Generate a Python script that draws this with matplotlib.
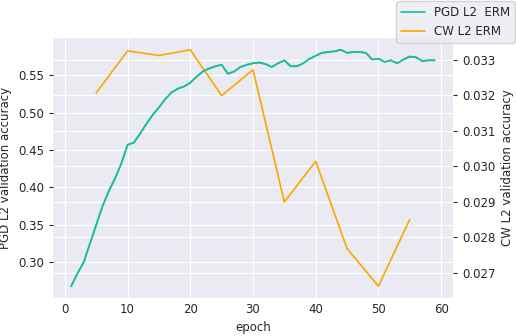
import matplotlib
matplotlib.use("Agg")
import matplotlib.pyplot as plt
import seaborn as sns
import numpy as np

pgd_epochs = list(range(1, 60))
pgd_acc = [0.268, 0.285, 0.300, 0.325, 0.350, 0.375, 0.395, 0.412, 0.432, 0.457,
           0.460, 0.472, 0.485, 0.497, 0.507, 0.518, 0.527, 0.532, 0.535, 0.540,
           0.548, 0.555, 0.559, 0.562, 0.564, 0.552, 0.555, 0.561, 0.564, 0.566,
           0.567, 0.565, 0.561, 0.566, 0.570, 0.562, 0.562, 0.566, 0.572, 0.576,
           0.580, 0.581, 0.582, 0.584, 0.580, 0.581, 0.581, 0.580, 0.571, 0.572,
           0.568, 0.570, 0.566, 0.571, 0.575, 0.574, 0.569, 0.570, 0.570]

cw_epochs = [5, 10, 15, 20, 25, 30, 35, 40, 45, 50, 55]
cw_acc = [0.03207, 0.03325, 0.03312, 0.03328, 0.03199, 0.03272,
          0.02899, 0.03014, 0.02768, 0.02662, 0.02850]

sns.set_style("darkgrid")
plt.rcParams['font.family'] = ['DejaVu Sans']
fs = 8.5
green = "#1abc9c"
fig = plt.figure(figsize=(5.16, 3.36), dpi=100)
ax = fig.add_axes([53/516, 1-298/336, 400/516, 260/336])
ax2 = ax.twinx()

l1, = ax.plot(pgd_epochs, pgd_acc, color=green, lw=1.2, label="PGD L2  ERM")
l2, = ax2.plot(cw_epochs, cw_acc, color="orange", lw=1.2, label="CW L2 ERM")

ax.set_xticks([0, 10, 20, 30, 40, 50, 60])
ax.set_yticks([0.30, 0.35, 0.40, 0.45, 0.50, 0.55])
ax2.set_yticks([0.027, 0.028, 0.029, 0.030, 0.031, 0.032, 0.033])
# fix limits, then redraw the PGD line above the right-axis grid
ax.set_xlim(ax.get_xlim())
ax.set_ylim(ax.get_ylim())
ax2.set_ylim(ax2.get_ylim())
ax2.plot(pgd_epochs, pgd_acc, color=green, lw=1.2, transform=ax.transData,
         scalex=False, scaley=False)
ax2.set_ylim(ax2.get_ylim())

ax.set_xlabel("epoch", fontsize=fs, color=".15")
ax.set_ylabel("PGD L2 validation accuracy", fontsize=fs, color=".15")
ax2.set_ylabel("CW L2 validation accuracy", fontsize=fs, color=".15")
for a in (ax, ax2):
    a.tick_params(labelsize=fs, colors=".15")
ax.tick_params(axis='y', length=3, width=0.8, color=".15")
ax2.tick_params(axis='y', length=3, width=0.8, color=".15")
ax.tick_params(axis='x', length=0)
for a in (ax, ax2):
    for s in a.spines.values():
        s.set_visible(False)

fig.legend(handles=[l1, l2], loc="upper right", bbox_to_anchor=(1.0, 1.0),
           fontsize=fs, frameon=True, borderaxespad=0.1)

fig.savefig("out.png", dpi=100)
